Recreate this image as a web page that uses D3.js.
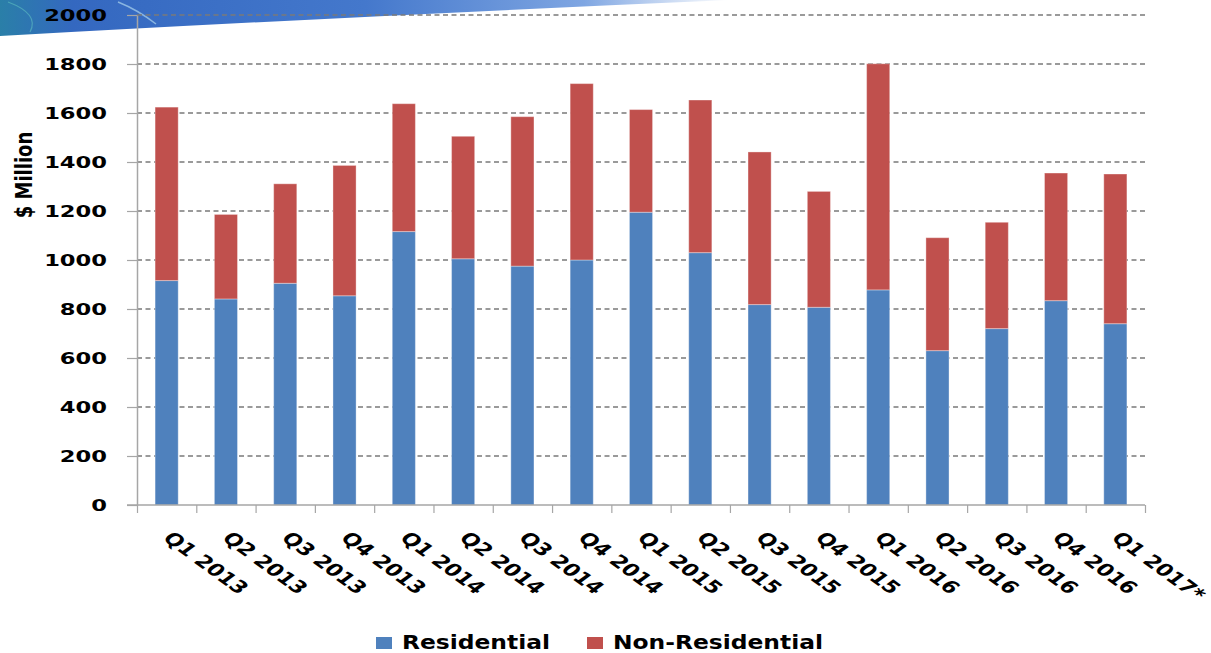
<!DOCTYPE html>
<html>
<head>
<meta charset="utf-8">
<script src="https://cdn.jsdelivr.net/npm/d3@7"></script>
<style>
  html, body { margin: 0; padding: 0; background: #fff; }
  svg { display: block; }
  text { font-family: "DejaVu Sans", Verdana, sans-serif; font-weight: bold; fill: #000; }
</style>
</head>
<body>
<div id="chart"></div>
<script>
// Quarterly construction value, stacked Residential / Non-Residential ($ Million)
const quarters = ['Q1 2013', 'Q2 2013', 'Q3 2013', 'Q4 2013', 'Q1 2014', 'Q2 2014', 'Q3 2014', 'Q4 2014',
  'Q1 2015', 'Q2 2015', 'Q3 2015', 'Q4 2015', 'Q1 2016', 'Q2 2016', 'Q3 2016', 'Q4 2016', 'Q1 2017*'];
const residential = [916, 841, 905, 854, 1116, 1005, 975, 1000, 1195, 1030, 818, 807, 878, 630, 720, 834, 740];
const nonResidential = [708, 345, 406, 532, 522, 500, 610, 720, 419, 623, 623, 473, 923, 461, 434, 521, 611];
const yTicks = [0, 200, 400, 600, 800, 1000, 1200, 1400, 1600, 1800, 2000];
const seriesNames = ['Residential', 'Non-Residential'];
const seriesColors = ['#4F81BD', '#C0504D'];

(function () {
  const W = 1211, H = 653;
  const left = 137, right = 1145, top = 15, bottom = 505;
  const SX = 1.37; // the source picture is stretched sideways, text follows it

  const svg = d3.select('#chart').append('svg')
    .attr('width', W).attr('height', H)
    .attr('viewBox', `0 0 ${W} ${H}`);

  // decorative swoosh in the top-left corner
  const defs = svg.append('defs');
  const grad = defs.append('linearGradient').attr('id', 'swoosh')
    .attr('x1', '0%').attr('y1', '0%').attr('x2', '100%').attr('y2', '0%');
  grad.append('stop').attr('offset', '0%').attr('stop-color', '#2a7fa8');
  grad.append('stop').attr('offset', '10%').attr('stop-color', '#3468c0');
  grad.append('stop').attr('offset', '50%').attr('stop-color', '#4478cc');
  grad.append('stop').attr('offset', '80%').attr('stop-color', '#7fa6e2');
  grad.append('stop').attr('offset', '100%').attr('stop-color', '#ffffff');
  svg.append('path')
    .attr('d', 'M0,0 L730,0 Q380,15 0,36 Z')
    .attr('fill', 'url(#swoosh)');
  svg.append('path')
    .attr('d', 'M8,2 Q40,14 30,32')
    .attr('fill', 'none').attr('stroke', '#6fd6c8').attr('stroke-opacity', 0.45).attr('stroke-width', 1.2);
  svg.append('path')
    .attr('d', 'M118,2 Q138,10 156,24')
    .attr('fill', 'none').attr('stroke', '#bfe6f5').attr('stroke-opacity', 0.6).attr('stroke-width', 1.5);

  const x = d3.scaleBand().domain(quarters).range([left, right])
    .paddingInner(0.61).paddingOuter(0.305);
  const xb = d3.scaleLinear().domain([0, quarters.length]).range([left, right]);
  const y = d3.scaleLinear().domain([0, 2000]).range([bottom, top]);

  // dashed gridlines
  svg.append('g').selectAll('line').data(yTicks.filter(d => d > 0)).join('line')
    .attr('x1', left).attr('x2', right)
    .attr('y1', d => y(d)).attr('y2', d => y(d))
    .attr('stroke', '#7a7a7a').attr('stroke-width', 1.5)
    .attr('stroke-dasharray', '5,3.5');

  // stacked bars
  const rows = quarters.map((q, i) => ({ q, Residential: residential[i], 'Non-Residential': nonResidential[i] }));
  const stacked = d3.stack().keys(seriesNames)(rows);
  svg.append('g').selectAll('g').data(stacked).join('g')
    .attr('fill', (d, i) => seriesColors[i])
    .selectAll('rect').data(d => d).join('rect')
    .attr('x', d => x(d.data.q))
    .attr('width', x.bandwidth())
    .attr('y', d => y(d[1]))
    .attr('height', d => y(d[0]) - y(d[1]))
    .attr('stroke', '#ffffff').attr('stroke-opacity', 0.35).attr('stroke-width', 1);

  // y axis
  const yAxis = svg.append('g').attr('transform', `translate(${left},0)`)
    .call(d3.axisLeft(y).tickValues(yTicks).tickFormat(d3.format('d'))
      .tickSize(10).tickSizeOuter(0).tickPadding(30));
  yAxis.select('.domain').attr('stroke', '#a6a6a6').attr('stroke-width', 1.5);
  yAxis.selectAll('.tick line').attr('stroke', '#a6a6a6').attr('stroke-width', 1.2);
  yAxis.selectAll('.tick text')
    .attr('x', null).attr('dy', '0.36em')
    .attr('transform', `translate(-30,0) scale(${SX},1)`)
    .style('font-size', '16.5px')
    .attr('font-family', null);

  // x axis: boundary ticks
  const xAxis = svg.append('g').attr('transform', `translate(0,${bottom})`)
    .call(d3.axisBottom(xb).tickValues(d3.range(quarters.length + 1)).tickFormat('').tickSize(8).tickSizeOuter(0));
  xAxis.select('.domain').attr('d', `M${left - 10},0H${right}`).attr('stroke', '#a6a6a6').attr('stroke-width', 1.5);
  xAxis.selectAll('.tick line').attr('stroke', '#a6a6a6').attr('stroke-width', 1.2);

  // rotated category labels
  svg.append('g').selectAll('text').data(quarters).join('text')
    .attr('transform', d => `translate(${x(d) + x.bandwidth() / 2 - 5},539) scale(${SX},1) rotate(45)`)
    .style('font-size', '17px')
    .text(d => d);

  // y axis title
  svg.append('text')
    .attr('transform', `translate(32,175) scale(${SX * 0.95},1) rotate(-90)`)
    .attr('text-anchor', 'middle')
    .style('font-size', '18px')
    .text('$ Million');

  // legend
  const legendX = [376, 587];
  const legend = svg.append('g').selectAll('g').data(seriesNames).join('g')
    .attr('transform', (d, i) => `translate(${legendX[i]},0)`);
  legend.append('rect')
    .attr('x', 0).attr('y', 637).attr('width', 16).attr('height', 12)
    .attr('fill', (d, i) => seriesColors[i]);
  legend.append('text')
    .attr('transform', `translate(26,649) scale(1.2,1)`)
    .style('font-size', '19.5px')
    .text(d => d);
})();
</script>
</body>
</html>
